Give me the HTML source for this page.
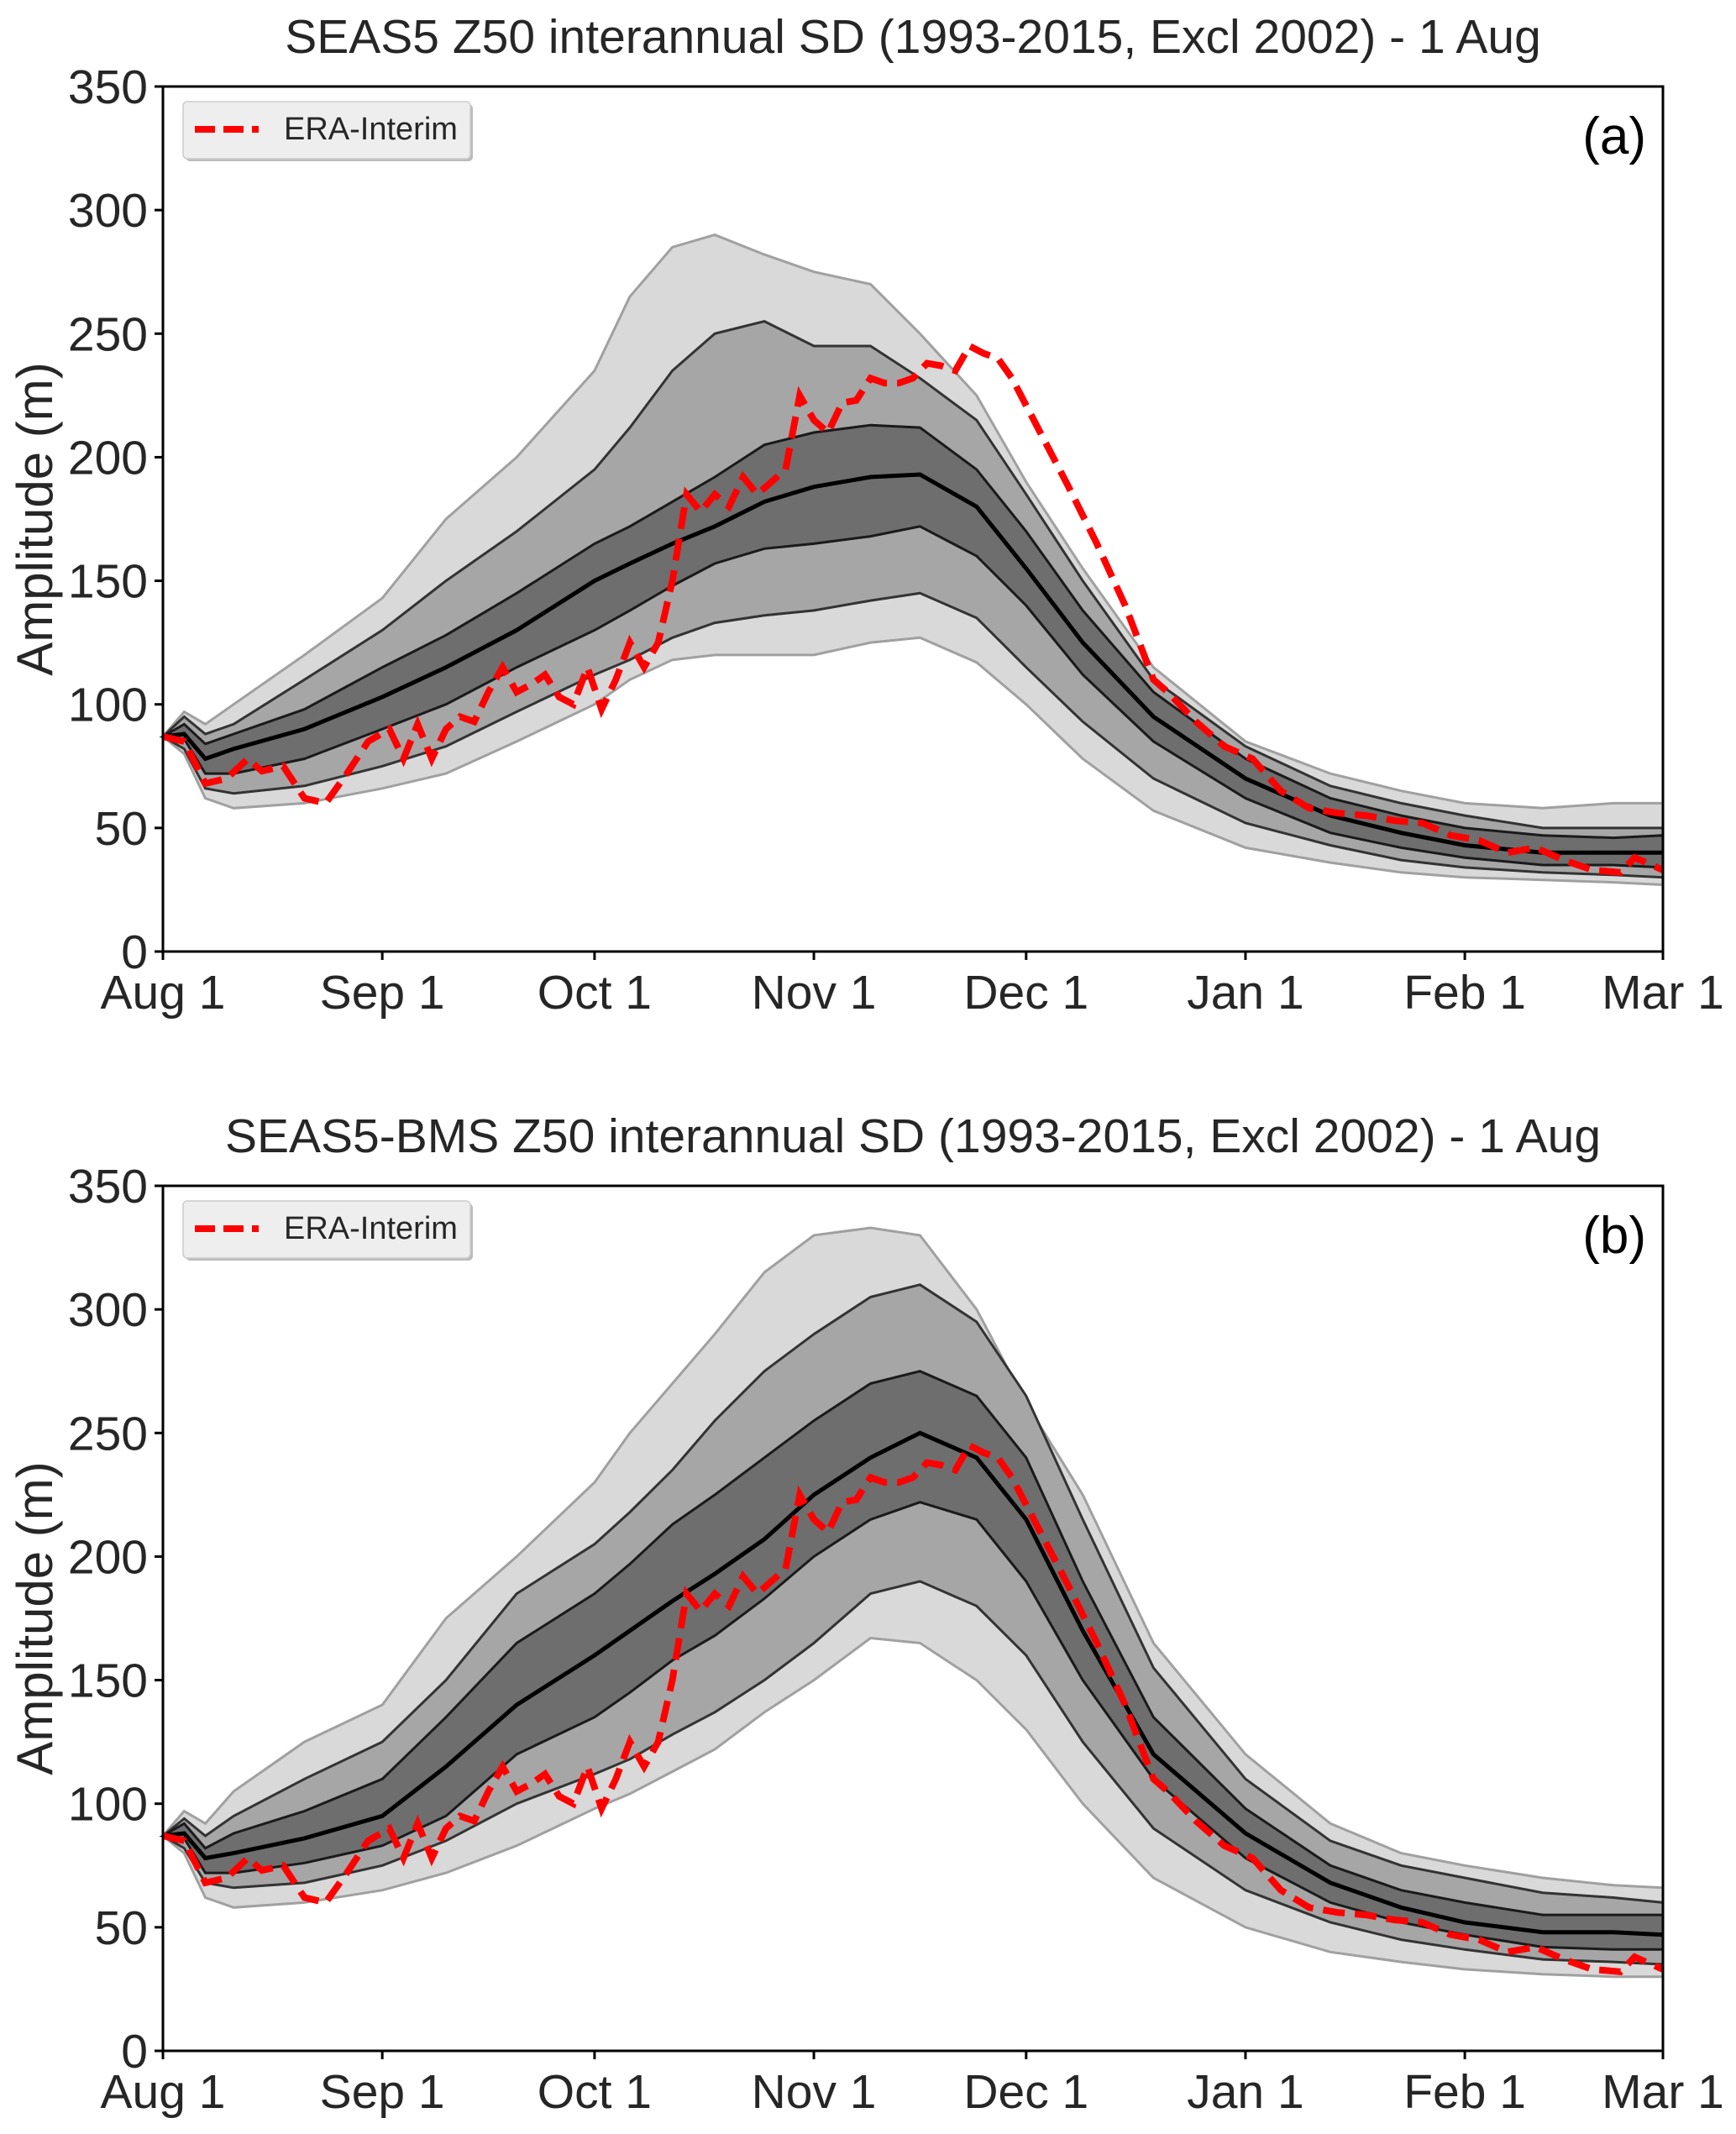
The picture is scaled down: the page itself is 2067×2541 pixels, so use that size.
<!DOCTYPE html>
<html><head><meta charset="utf-8"><style>
html,body{margin:0;padding:0;background:#fff;}
svg{display:block;font-family:"Liberation Sans",sans-serif;}
</style></head><body>
<svg id="chart" width="2067" height="2541" viewBox="0 0 2067 2541" xmlns="http://www.w3.org/2000/svg"></svg>
<script>
const gridDays=[0,3,6,10,20,31,40,50,61,66,72,78,85,92,100,107,115,122,130,140,153,165,175,184,195,205,212];
const aMedian=[87,88,78,82,90,103,115,130,150,157,165,172,182,188,192,193,180,155,125,95,70,55,48,43,40,40,40];
const aInHi=[87,92,84,88,98,115,128,145,165,172,182,192,205,210,213,212,195,170,138,105,78,62,55,50,47,46,47];
const aInLo=[87,86,72,72,78,90,100,115,130,138,148,157,163,165,168,172,160,140,112,85,62,48,42,38,35,35,34];
const aMidHi=[87,95,88,92,110,130,150,170,195,212,235,250,255,245,245,232,215,185,150,110,83,67,60,55,50,50,50];
const aMidLo=[87,82,66,64,67,75,83,97,112,118,127,133,136,138,142,145,135,115,93,70,52,43,37,34,32,31,30];
const aOutHi=[87,97,92,100,120,143,175,200,235,265,285,290,282,275,270,250,225,190,155,115,85,72,65,60,58,60,60];
const aOutLo=[87,80,62,58,60,66,72,85,100,110,118,120,120,120,125,127,117,100,78,57,42,36,32,30,29,28,27];
const bMedian=[87,88,78,80,86,95,115,140,160,170,182,193,207,225,240,250,240,215,170,120,88,68,58,52,48,48,47];
const bInHi=[87,92,82,88,97,110,135,165,185,197,213,225,240,255,270,275,265,240,190,135,98,75,65,60,55,55,55];
const bInLo=[87,86,72,72,76,83,95,120,135,145,158,168,183,200,215,222,215,190,150,110,78,60,52,47,42,41,41];
const bMidHi=[87,94,87,95,110,125,150,185,205,218,235,255,275,290,305,310,295,265,215,155,110,85,75,70,64,62,60];
const bMidLo=[87,82,68,66,68,75,85,100,112,118,128,137,150,165,185,190,180,160,125,90,65,52,45,41,37,36,35];
const bOutHi=[87,97,92,105,125,140,175,200,230,250,270,290,315,330,333,330,300,262,225,165,120,92,80,75,70,67,66];
const bOutLo=[87,80,62,58,60,65,72,83,98,104,113,122,137,150,167,165,150,130,100,70,50,40,36,33,31,30,30];
const eraDays=[0,3,6,9,12,14,17,20,23,26,29,32,34,36,38,40,42,44,46,48,50,52,54,56,58,60,62,64,66,68,70,72,74,76,78,80,82,84,86,88,90,92,94,96,98,100,102,104,106,108,110,112,114,116,118,120,124,128,132,136,140,142,146,150,154,158,162,166,170,174,178,182,186,190,194,198,202,206,208,212];
const eraVals=[87,85,68,70,78,73,75,62,60,72,85,90,78,92,78,90,95,93,105,115,105,108,112,103,100,115,98,110,125,115,125,150,185,178,185,180,192,185,190,195,225,215,210,222,223,232,230,230,232,238,237,235,245,242,240,232,210,188,165,140,110,105,93,83,78,65,58,56,55,53,52,47,45,40,42,37,33,32,38,33];
const xTickDays=[0,31,61,92,122,153,184,212];
const xTickLabels=["Aug 1","Sep 1","Oct 1","Nov 1","Dec 1","Jan 1","Feb 1","Mar 1"];
const yTicks=[0,50,100,150,200,250,300,350];
const titles=["SEAS5 Z50 interannual SD (1993-2015, Excl 2002) - 1 Aug","SEAS5-BMS Z50 interannual SD (1993-2015, Excl 2002) - 1 Aug"];

const NS="http://www.w3.org/2000/svg";
const svg=document.getElementById('chart');
const X0=194,X1=1980,DMAX=212,YMAX=350,H=1030;
function mk(tag,attrs,parent){const e=document.createElementNS(NS,tag);for(const k in attrs)e.setAttribute(k,attrs[k]);parent.appendChild(e);return e;}

function panel(top,idx,med,inHi,inLo,midHi,midLo,outHi,outLo,label){
  const g=mk('g',{},svg);
  
  
  const xs=d=>X0+d/DMAX*(X1-X0);
  const ys=v=>top+H-v/YMAX*H;
  const line=(days,vals)=>days.map((d,i)=>(i?'L':'M')+xs(d).toFixed(1)+' '+ys(vals[i]).toFixed(1)).join(' ');
  const band=(hi,lo)=>line(gridDays,hi)+' '+gridDays.slice().reverse().map((d,i)=>'L'+xs(d).toFixed(1)+' '+ys(lo[lo.length-1-i]).toFixed(1)).join(' ')+' Z';
  const t=mk('text',{x:(X0+X1)/2,y:top-40,'text-anchor':'middle','font-size':57,fill:'#262626'},g);
  t.textContent=titles[idx];
  
  
  let p;
  p=mk('path',{d:band(outHi,outLo),fill:'#d9d9d9',stroke:'#a0a0a0','stroke-width':3},g);
  
  
  p=mk('path',{d:band(midHi,midLo),fill:'#a6a6a6',stroke:'#333','stroke-width':3},g);
  
  
  p=mk('path',{d:band(inHi,inLo),fill:'#6e6e6e',stroke:'#1a1a1a','stroke-width':3},g);
  
  
  p=mk('path',{d:line(gridDays,med),fill:'none',stroke:'#000','stroke-width':5},g);
  
  
  p=mk('path',{d:line(eraDays,eraVals),fill:'none',stroke:'#ff0000','stroke-width':8,'stroke-dasharray':'26 12'},g);
  
  
  const ax=mk('rect',{x:X0,y:top,width:X1-X0,height:H,fill:'none',stroke:'#000','stroke-width':3},g);
  
  
  yTicks.forEach(v=>{
    mk('line',{x1:X0-10,x2:X0,y1:ys(v),y2:ys(v),stroke:'#000','stroke-width':3},g);
    const tl=mk('text',{x:X0-18,y:ys(v)+20,'text-anchor':'end','font-size':57,fill:'#262626'},g);
    tl.textContent=v;
    
    
  });
  xTickDays.forEach((d,i)=>{
    mk('line',{x1:xs(d),x2:xs(d),y1:top+H,y2:top+H+10,stroke:'#000','stroke-width':3},g);
    const tl=mk('text',{x:xs(d),y:top+H+68,'text-anchor':'middle','font-size':57,fill:'#262626'},g);
    tl.textContent=xTickLabels[i];
    
    
  });
  const yl=mk('text',{x:0,y:0,transform:`translate(62 ${top+H/2}) rotate(-90)`,'text-anchor':'middle','font-size':60,fill:'#262626'},g);
  yl.textContent='Amplitude (m)';
  
  
  const lg=mk('g',{},g);
  
  
  mk('rect',{x:221,y:top+21,width:342,height:68,rx:5,fill:'#bbb'},lg);
  mk('rect',{x:218,y:top+18,width:342,height:68,rx:5,fill:'#eeeeee',stroke:'#ccc','stroke-width':1.5},lg);
  mk('line',{x1:232,x2:308,y1:top+51,y2:top+51,stroke:'#ff0000','stroke-width':8,'stroke-dasharray':'24 10'},lg);
  const lt=mk('text',{x:338,y:top+63,'font-size':38,fill:'#262626'},lg);
  lt.textContent='ERA-Interim';
  
  
  const pl=mk('text',{x:1960,y:top+80,'text-anchor':'end','font-size':62,fill:'#000'},g);
  pl.textContent='('+label+')';
  
  
}
panel(103,0,aMedian,aInHi,aInLo,aMidHi,aMidLo,aOutHi,aOutLo,'a');
panel(1412,1,bMedian,bInHi,bInLo,bMidHi,bMidLo,bOutHi,bOutLo,'b');
</script>
</body></html>
